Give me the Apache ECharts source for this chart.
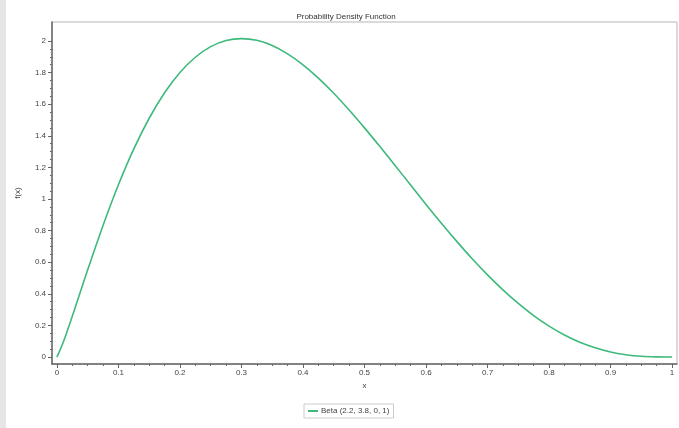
<!DOCTYPE html>
<html>
<head>
<meta charset="utf-8">
<script src="https://cdn.jsdelivr.net/npm/echarts@6/dist/echarts.min.js"></script>
<style>
  html, body { margin: 0; padding: 0; background: #fff; }
  #chart { width: 679px; height: 428px; }
</style>
</head>
<body>
<div id="chart"></div>
<script>
// x values of the curve
var xValues = [0, 0.01, 0.025, 0.05, 0.075, 0.1, 0.125, 0.15, 0.175, 0.2,
  0.225, 0.25, 0.275, 0.3, 0.325, 0.35, 0.375, 0.4, 0.425, 0.45,
  0.475, 0.5, 0.525, 0.55, 0.575, 0.6, 0.625, 0.65, 0.675, 0.7,
  0.725, 0.75, 0.775, 0.8, 0.825, 0.85, 0.875, 0.9, 0.925, 0.95,
  0.975, 1];
// f(x)
var density = [0, 0.090, 0.258, 0.552, 0.833, 1.090, 1.317, 1.511, 1.672, 1.801,
  1.897, 1.964, 2.003, 2.015, 2.004, 1.971, 1.918, 1.849, 1.765, 1.669,
  1.563, 1.450, 1.332, 1.211, 1.088, 0.966, 0.847, 0.732, 0.622, 0.520,
  0.425, 0.339, 0.262, 0.196, 0.140, 0.094, 0.059, 0.032, 0.015, 0.005,
  0.001, 0];
var xTicks = [0, 0.1, 0.2, 0.3, 0.4, 0.5, 0.6, 0.7, 0.8, 0.9, 1];
var yTicks = [0, 0.2, 0.4, 0.6, 0.8, 1, 1.2, 1.4, 1.6, 1.8, 2];
var seriesName = "Beta (2.2, 3.8, 0, 1)";

// minor ticks: 4 parts per major interval
function minors(ticks, parts) {
  var out = [];
  for (var i = 0; i < ticks.length - 1; i++) {
    var step = (ticks[i + 1] - ticks[i]) / parts;
    for (var k = 1; k < parts; k++) out.push(+(ticks[i] + k * step).toFixed(4));
  }
  return out;
}

var points = [];
for (var i = 0; i < xValues.length; i++) points.push([xValues[i], density[i]]);

var font = "Liberation Sans, Arial, sans-serif";
var axisColor = "#666";
var labelStyle = { color: "#444", fontSize: 8, fontFamily: font };

var myChart = echarts.init(document.getElementById("chart"));
var option = {
  animation: false,
  backgroundColor: "#fff",
  title: {
    text: "Probability Density Function",
    left: 341,
    top: 8,
    textAlign: "center",
    textStyle: { color: "#333", fontSize: 8, fontWeight: "normal", fontFamily: font },
  },
  legend: {
    data: [seriesName],
    left: 304,
    top: 404,
    padding: [3, 4, 3, 4],
    borderColor: "#ccc",
    borderWidth: 1,
    itemWidth: 10,
    itemHeight: 2,
    itemGap: 4,
    icon: "rect",
    textStyle: { color: "#444", fontSize: 8, fontFamily: font, padding: [0, 0, 0, -2] },
  },
  graphic: [
    { type: "rect", shape: { x: 0, y: 0, width: 6, height: 428 }, style: { fill: "#e6e6e6" }, silent: true },
  ],
  grid: {
    left: 52,
    top: 22,
    right: 2,
    bottom: 64,
    show: true,
    borderColor: "#b5b5b5",
    borderWidth: 1,
  },
  xAxis: [
    {
      type: "value",
      min: -0.008,
      max: 1.008,
      name: "x",
      nameLocation: "middle",
      nameGap: 18,
      nameTextStyle: labelStyle,
      axisLine: { show: true, onZero: false, lineStyle: { color: axisColor, width: 1.5 } },
      axisTick: { show: true, length: 4, customValues: xTicks, lineStyle: { color: axisColor } },
      axisLabel: { customValues: xTicks, margin: 5, color: labelStyle.color, fontSize: 8, fontFamily: font },
      splitLine: { show: false },
    },
    {
      type: "value",
      min: -0.008,
      max: 1.008,
      position: "bottom",
      axisLine: { show: false, onZero: false },
      axisTick: { show: true, length: 2, customValues: minors(xTicks, 4), lineStyle: { color: axisColor } },
      axisLabel: { show: false },
      splitLine: { show: false },
    },
  ],
  yAxis: [
    {
      type: "value",
      min: -0.044,
      max: 2.12,
      name: "f(x)",
      nameLocation: "middle",
      nameGap: 30,
      nameRotate: 90,
      nameTextStyle: labelStyle,
      axisLine: { show: true, onZero: false, lineStyle: { color: axisColor, width: 1.5 } },
      axisTick: { show: true, length: 4, customValues: yTicks, lineStyle: { color: axisColor } },
      axisLabel: { customValues: yTicks, margin: 6, color: labelStyle.color, fontSize: 8, fontFamily: font },
      splitLine: { show: false },
    },
    {
      type: "value",
      min: -0.044,
      max: 2.12,
      position: "left",
      axisLine: { show: false, onZero: false },
      axisTick: { show: true, length: 2, customValues: minors(yTicks, 4), lineStyle: { color: axisColor } },
      axisLabel: { show: false },
      splitLine: { show: false },
    },
  ],
  series: [
    {
      name: seriesName,
      type: "line",
      xAxisIndex: 0,
      yAxisIndex: 0,
      data: points,
      smooth: 0.3,
      showSymbol: false,
      lineStyle: { color: "#3dba7b", width: 1.6 },
      itemStyle: { color: "#3dba7b" },
    },
  ],
};
myChart.setOption(option);
</script>
</body>
</html>
